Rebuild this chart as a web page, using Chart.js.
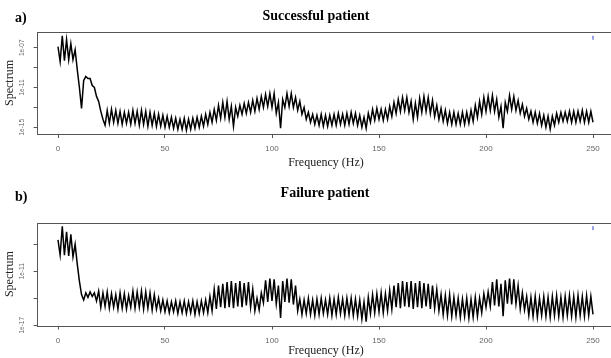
<!DOCTYPE html>
<html>
<head>
<meta charset="utf-8">
<script src="https://cdn.jsdelivr.net/npm/chart.js@4.4.1/dist/chart.umd.min.js"></script>
<style>
  html, body { margin: 0; padding: 0; background: #fff; overflow: hidden; }
  canvas { position: absolute; left: 0; }
  #topChart { top: 0; }
  #bottomChart { top: 178px; }
</style>
</head>
<body>
<canvas id="topChart" width="620" height="178"></canvas>
<canvas id="bottomChart" width="620" height="180"></canvas>
<script>
// frequency grid in Hz (one sample per Hz, 0..250)
var freqHz = [];
for (var f = 0; f <= 250; f++) freqHz.push(f);

// log10 of the spectrum (index = Hz)
var successLog10 = [
  -6.9, -8.4, -5.8, -8.3, -6.2, -8.2, -6.6, -8.2, -7.2, -9.2,
  -11.0, -13.1, -10.3, -9.9, -10.1, -10.1, -10.8, -11.0, -11.9, -12.4,
  -13.4, -14.2, -14.8, -13.3, -14.6, -13.2, -14.5, -13.3, -14.6, -13.4,
  -14.7, -13.5, -14.6, -13.5, -14.7, -13.3, -14.6, -13.4, -14.8, -13.3,
  -14.7, -13.4, -14.9, -13.5, -14.8, -13.6, -14.9, -13.7, -14.9, -13.8,
  -15.0, -13.9, -15.0, -14.0, -15.1, -14.1, -15.2, -14.2, -15.2, -14.1,
  -15.3, -14.2, -15.2, -14.1, -15.1, -14.0, -15.0, -13.9, -14.9, -13.7,
  -14.7, -13.5, -14.5, -13.2, -14.3, -12.8, -14.1, -12.5, -14.0, -12.4,
  -14.2, -12.9, -14.9, -13.0, -13.9, -12.8, -13.7, -12.6, -13.6, -12.5,
  -13.5, -12.3, -13.4, -12.1, -13.2, -11.9, -13.0, -11.7, -12.9, -11.6,
  -13.0, -11.6, -13.6, -12.5, -15.1, -12.2, -13.0, -11.6, -12.9, -11.6,
  -13.0, -12.0, -13.3, -12.4, -13.7, -13.0, -14.2, -13.5, -14.5, -13.7,
  -14.7, -13.8, -14.8, -13.7, -14.9, -13.8, -14.9, -13.8, -14.8, -13.7,
  -14.8, -13.6, -14.7, -13.7, -14.8, -13.6, -14.7, -13.5, -14.6, -13.6,
  -14.8, -13.8, -15.0, -14.0, -15.1, -13.6, -14.5, -13.2, -14.3, -13.1,
  -14.2, -13.2, -14.3, -13.2, -14.2, -12.9, -13.9, -12.5, -13.6, -12.2,
  -13.4, -12.0, -13.3, -12.0, -13.5, -12.4, -14.2, -12.6, -14.0, -12.1,
  -13.5, -11.9, -13.4, -12.0, -13.6, -12.3, -13.9, -12.8, -14.2, -13.1,
  -14.4, -13.3, -14.6, -13.5, -14.7, -13.5, -14.7, -13.6, -14.7, -13.5,
  -14.7, -13.5, -14.6, -13.3, -14.4, -12.8, -14.0, -12.4, -13.7, -12.0,
  -13.4, -11.9, -13.3, -11.8, -13.4, -12.2, -14.0, -12.9, -15.1, -12.5,
  -13.4, -11.8, -13.2, -11.9, -13.3, -12.3, -13.6, -12.7, -13.9, -13.1,
  -14.2, -13.4, -14.5, -13.5, -14.6, -13.6, -14.8, -13.8, -15.0, -13.9,
  -15.2, -13.9, -14.8, -13.6, -14.5, -13.5, -14.4, -13.5, -14.4, -13.4,
  -14.5, -13.4, -14.5, -13.4, -14.4, -13.3, -14.5, -13.4, -14.5, -13.4,
  -14.5
];

var failureLog10 = [
  -7.5, -9.2, -6.0, -9.2, -6.6, -9.3, -6.9, -9.4, -8.0, -10.2,
  -12.1, -13.6, -14.2, -13.4, -13.9, -13.3, -13.8, -13.4, -14.3, -13.2,
  -15.0, -13.4, -14.9, -13.3, -15.1, -13.5, -15.0, -13.6, -15.2, -13.4,
  -15.1, -13.5, -15.2, -13.7, -15.0, -13.2, -15.1, -13.3, -15.0, -13.2,
  -15.2, -13.3, -15.1, -13.4, -15.3, -13.6, -15.2, -14.0, -15.4, -14.2,
  -15.5, -14.3, -15.6, -14.4, -15.5, -14.3, -15.7, -14.4, -15.6, -14.3,
  -15.7, -14.4, -15.6, -14.3, -15.8, -14.4, -15.7, -14.3, -15.6, -14.2,
  -15.6, -13.8, -15.4, -13.0, -15.2, -12.6, -15.0, -12.4, -15.1, -12.2,
  -15.0, -12.1, -15.1, -12.3, -14.9, -12.1, -15.0, -12.3, -14.8, -12.2,
  -15.0, -13.0, -15.4, -14.0, -15.3, -13.4, -14.5, -12.0, -14.4, -11.8,
  -14.3, -11.9, -14.6, -12.6, -16.2, -12.1, -14.4, -11.8, -14.5, -11.9,
  -14.7, -12.6, -15.4, -14.1, -15.8, -14.2, -15.7, -14.0, -15.8, -14.2,
  -15.9, -14.1, -15.8, -14.0, -15.7, -14.2, -15.8, -14.0, -15.9, -14.1,
  -15.8, -13.9, -15.7, -14.1, -15.9, -14.0, -15.8, -14.0, -15.9, -14.1,
  -16.0, -14.2, -16.3, -14.4, -16.6, -13.9, -15.7, -13.6, -15.6, -13.5,
  -15.5, -13.4, -15.6, -13.5, -15.4, -13.1, -15.2, -12.6, -15.0, -12.3,
  -15.1, -12.1, -14.9, -12.2, -15.0, -12.1, -15.2, -12.3, -15.0, -12.1,
  -15.1, -12.3, -14.9, -12.4, -15.2, -12.6, -15.1, -13.0, -15.4, -13.6,
  -15.8, -13.7, -15.9, -13.6, -16.0, -13.9, -15.9, -14.0, -16.1, -14.1,
  -16.0, -14.0, -16.2, -14.1, -16.1, -13.9, -16.0, -14.0, -15.6, -13.5,
  -15.0, -13.3, -14.9, -12.2, -14.8, -11.9, -14.9, -12.4, -16.0, -12.0,
  -14.6, -11.8, -14.7, -11.9, -14.6, -12.6, -15.2, -13.4, -15.3, -13.8,
  -15.9, -13.9, -16.0, -13.8, -16.1, -14.0, -15.9, -13.8, -16.0, -13.9,
  -16.1, -13.8, -15.9, -13.7, -16.0, -13.9, -16.1, -13.8, -15.9, -13.7,
  -16.0, -13.8, -16.1, -13.7, -15.9, -13.8, -16.0, -13.7, -15.9, -13.8,
  -15.8
];

// small blue marks at the top right of each panel [Hz, log10]
var successMark = [250, -6.0];
var failureMark = [250, -6.2];

var xTicks = [0, 50, 100, 150, 200, 250];
var successYTicks = [1e-7, 1e-9, 1e-11, 1e-13, 1e-15];
var successYLabels = ["1e-07", "", "1e-11", "", "1e-15"];
var failureYTicks = [1e-8, 1e-11, 1e-14, 1e-17];
var failureYLabels = ["", "1e-11", "", "1e-17"];

var serif = "'Liberation Serif', 'Times New Roman', serif";
var sans = "'Liberation Sans', Arial, sans-serif";

// draws the box, rotated y tick labels and the panel texts
var panelText = {
  id: "panelText",
  afterDraw: function (chart, args, opts) {
    var ctx = chart.ctx;
    var area = chart.chartArea;
    var yScale = chart.scales.y;
    ctx.save();
    ctx.strokeStyle = "#555";
    ctx.lineWidth = 1;
    ctx.strokeRect(Math.round(area.left) + 0.5, Math.round(area.top) + 0.5,
      Math.round(area.right - area.left), Math.round(area.bottom - area.top));

    // y tick labels, rotated like R does
    ctx.fillStyle = "#666";
    ctx.font = "6.5px " + sans;
    ctx.textAlign = "center";
    ctx.textBaseline = "middle";
    opts.yTicks.forEach(function (v, i) {
      if (!opts.yLabels[i]) return;
      var py = yScale.getPixelForValue(v);
      ctx.save();
      ctx.translate(22, py);
      ctx.rotate(-Math.PI / 2);
      ctx.fillText(opts.yLabels[i], 0, 0);
      ctx.restore();
    });

    ctx.fillStyle = "#000";
    ctx.font = "bold 14px " + serif;
    ctx.textAlign = "left";
    ctx.fillText(opts.tag, 15, opts.tagY);
    ctx.textAlign = "center";
    ctx.fillText(opts.title, opts.titleX, opts.titleY);

    ctx.fillStyle = "#222";
    ctx.font = "12px " + serif;
    ctx.fillText("Frequency (Hz)", 326, opts.xTitleY);
    ctx.save();
    ctx.translate(10, (area.top + area.bottom) / 2);
    ctx.rotate(-Math.PI / 2);
    ctx.fillText("Spectrum", 0, 0);
    ctx.restore();
    ctx.restore();
  }
};

function makePanel(canvasId, logValues, mark, yMin, yMax, yTicks, yLabels, text) {
  var points = freqHz.map(function (f, i) {
    return { x: f, y: Math.pow(10, logValues[i]) };
  });
  var ctx = document.getElementById(canvasId).getContext("2d");
  var h = document.getElementById(canvasId).height;
  return new Chart(ctx, {
    type: "line",
    data: {
      datasets: [
        {
          data: points,
          borderColor: "#000",
          borderWidth: 1.5,
          pointRadius: 0,
          tension: 0,
        },
        {
          type: "scatter",
          data: [{ x: mark[0], y: Math.pow(10, mark[1]) }],
          pointStyle: "line",
          rotation: 90,
          radius: 2,
          borderColor: "#3344cc",
          borderWidth: 1,
        },
      ],
    },
    options: {
      responsive: false,
      animation: false,
      devicePixelRatio: 1,
      layout: { padding: { left: 0, top: text.boxTop, right: 5.6, bottom: 0 } },
      plugins: {
        legend: { display: false },
        tooltip: { enabled: false },
        panelText: {
          tag: text.tag, tagY: text.tagY,
          title: text.title, titleX: text.titleX, titleY: text.titleY,
          xTitleY: text.xTitleY,
          yTicks: yTicks, yLabels: yLabels,
        },
      },
      scales: {
        x: {
          type: "linear",
          min: -10,
          max: 260,
          afterBuildTicks: function (scale) {
            scale.ticks = xTicks.map(function (v) { return { value: v }; });
          },
          afterFit: function (scale) { scale.height = h - text.boxBottom; },
          grid: { drawOnChartArea: false, drawTicks: true, tickLength: 4, color: "#555" },
          border: { display: false },
          ticks: {
            padding: 6,
            color: "#666",
            font: { family: sans, size: 8 },
            maxRotation: 0,
            autoSkip: false,
            callback: function (v) { return String(v); },
          },
        },
        y: {
          type: "logarithmic",
          min: Math.pow(10, yMin),
          max: Math.pow(10, yMax),
          afterBuildTicks: function (scale) {
            scale.ticks = yTicks.map(function (v) { return { value: v }; });
          },
          afterFit: function (scale) { scale.width = 36.6; },
          grid: { drawOnChartArea: false, drawTicks: true, tickLength: 3, color: "#555" },
          border: { display: false },
          ticks: { display: false },
        },
      },
    },
    plugins: [panelText],
  });
}

makePanel("topChart", successLog10, successMark, -15.68, -5.42,
  successYTicks, successYLabels,
  { tag: "a)", tagY: 18, title: "Successful patient", titleX: 316, titleY: 16,
    xTitleY: 163, boxTop: 32, boxBottom: 134 });

makePanel("bottomChart", failureLog10, failureMark, -17.03, -5.6,
  failureYTicks, failureYLabels,
  { tag: "b)", tagY: 19, title: "Failure patient", titleX: 325, titleY: 15,
    xTitleY: 172.5, boxTop: 44.7, boxBottom: 147.5 });
</script>
</body>
</html>
